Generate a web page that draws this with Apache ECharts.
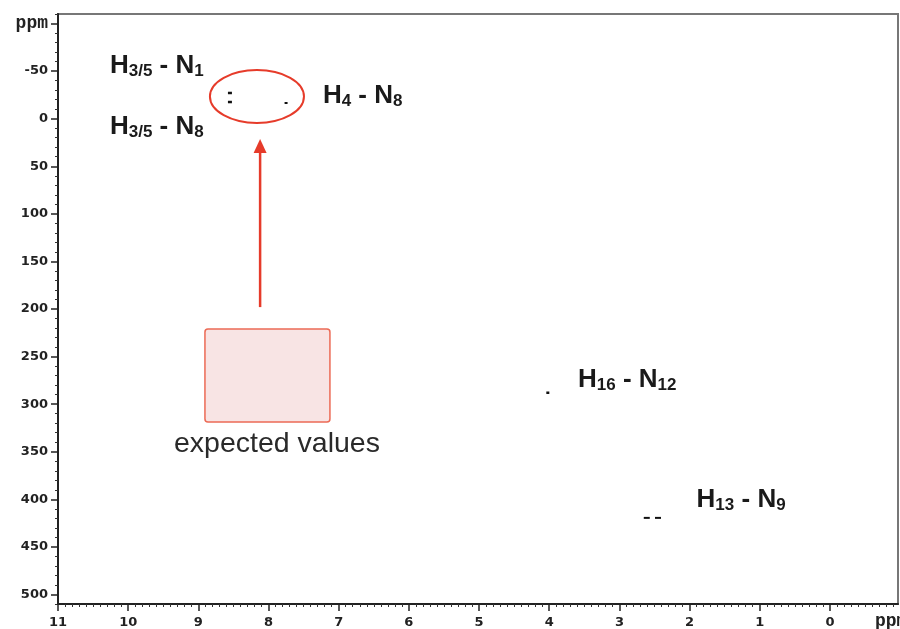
<!DOCTYPE html>
<html><head><meta charset="utf-8">
<script src="https://cdn.jsdelivr.net/npm/echarts@6/dist/echarts.min.js"></script>
<style>html,body{margin:0;padding:0;background:#fff}#c{width:900px;height:629px}</style>
</head><body><div id="c"></div>
<script>
// ---- data ----
const xMajorTicks = [11, 10, 9, 8, 7, 6, 5, 4, 3, 2, 1, 0];
const xTickLabels = ['11', '10', '9', '8', '7', '6', '5', '4', '3', '2', '1', '0'];
const yMajorTicks = [-100, -50, 0, 50, 100, 150, 200, 250, 300, 350, 400, 450, 500];
const yTickLabels = ['ppm', '-50', '0', '50', '100', '150', '200', '250', '300', '350', '400', '450', '500'];
const peakX = [8.55, 8.55, 7.75, 4.02, 2.61, 2.45];
const peakY = [-27, -17.5, -16.5, 288, 419.5, 419.5];
const pairH = ['3/5', '3/5', '4', '16', '13'];
const pairN = ['1', '8', '8', '12', '9'];
const boxCaption = 'expected values';

// ---- layout / style (not data) ----
const peakSizes = [[4, 2.5], [4, 2.5], [3, 2], [3, 2.5], [6, 2], [6, 2]];
const labelAnchors = [[10.26, -55.7], [10.26, 8.4], [7.225, -24.2], [3.59, 274.3], [1.90, 400.4]];
const captionAnchor = [7.88, 341.5];
const RED = '#e63b2a';
const LABEL_FONT = '"Liberation Sans", Arial, Helvetica, sans-serif';

const xMinor = [];
for (let i = -9; i <= 110; i++) { if (i % 10 !== 0) xMinor.push(i / 10); }
const yMinor = [];
for (let v = -110; v <= 510; v += 10) { if (v % 50 !== 0) yMinor.push(v); }

const tickFont = { fontFamily: 'DejaVu Sans', fontWeight: 'bold', fontSize: 13, color: '#222' };

const chart = echarts.init(document.getElementById('c'), null, { renderer: 'canvas' });
chart.setOption({
  backgroundColor: '#fff',
  animation: false,
  grid: { left: 58, right: 2, top: 14, bottom: 25, show: true, borderColor: '#777', borderWidth: 2, backgroundColor: 'transparent' },
  xAxis: [
    { type: 'value', min: -0.97, max: 11, inverse: true, position: 'bottom',
      axisLine: { show: true, onZero: false, lineStyle: { color: '#222', width: 2 } },
      axisTick: { show: true, customValues: xMajorTicks, length: 7, lineStyle: { color: '#222', width: 1.5 } },
      axisLabel: Object.assign({ customValues: xMajorTicks, margin: 12,
        formatter: v => xTickLabels[xMajorTicks.indexOf(v)] }, tickFont),
      splitLine: { show: false } },
    { type: 'value', min: -0.97, max: 11, inverse: true, position: 'bottom',
      axisLine: { show: false, onZero: false },
      axisTick: { show: true, customValues: xMinor, length: 3, lineStyle: { color: '#333', width: 1 } },
      axisLabel: { show: false }, splitLine: { show: false } }
  ],
  yAxis: [
    { type: 'value', min: -110, max: 510, inverse: true, position: 'left',
      axisLine: { show: true, onZero: false, lineStyle: { color: '#222', width: 2 } },
      axisTick: { show: true, customValues: yMajorTicks, length: 7, lineStyle: { color: '#222', width: 1.5 } },
      axisLabel: Object.assign({ customValues: yMajorTicks, margin: 10,
        formatter: v => { const i = yMajorTicks.indexOf(v); return i === 0 ? '{u|' + yTickLabels[i] + '}' : yTickLabels[i]; },
        rich: { u: { fontFamily: 'Liberation Mono', fontWeight: 'bold', fontSize: 18, color: '#222' } } }, tickFont),
      splitLine: { show: false } },
    { type: 'value', min: -110, max: 510, inverse: true, position: 'left',
      axisLine: { show: false, onZero: false },
      axisTick: { show: true, customValues: yMinor, length: 3, lineStyle: { color: '#333', width: 1 } },
      axisLabel: { show: false }, splitLine: { show: false } }
  ],
  graphic: [
    { type: 'text', left: 875, top: 612, style: { text: 'ppm', font: 'bold 18px "Liberation Mono"', fill: '#222' } }
  ],
  series: [
    { type: 'custom', name: 'annotations', coordinateSystem: 'cartesian2d', z: 1, silent: true,
      data: [[8, 200]],
      renderItem: function (params, api) {
        const c = api.coord([8.165, -23.3]);
        const s = api.size([0.67, 27.8]);
        const r1 = api.coord([8.906, 221]);
        const r2 = api.coord([7.125, 318.7]);
        const a1 = api.coord([8.12, 198]);
        const a2 = api.coord([8.12, 21.3]);
        return { type: 'group', children: [
          { type: 'rect', shape: { x: Math.min(r1[0], r2[0]), y: Math.min(r1[1], r2[1]),
              width: Math.abs(r2[0] - r1[0]), height: Math.abs(r2[1] - r1[1]), r: 3 },
            style: { fill: '#f8e4e4', stroke: '#ec6a55', lineWidth: 1.5 } },
          { type: 'ellipse', shape: { cx: c[0], cy: c[1], rx: Math.abs(s[0]), ry: Math.abs(s[1]) },
            style: { fill: 'none', stroke: RED, lineWidth: 2 } },
          { type: 'line', shape: { x1: a1[0], y1: a1[1], x2: a2[0], y2: a2[1] + 12 },
            style: { stroke: RED, lineWidth: 2.5 } },
          { type: 'polygon', shape: { points: [[a2[0], a2[1]], [a2[0] - 6.5, a2[1] + 14], [a2[0] + 6.5, a2[1] + 14]] },
            style: { fill: RED } }
        ] };
      } },
    { type: 'scatter', name: 'peaks', z: 5, symbol: 'rect',
      symbolSize: (val, p) => peakSizes[p.dataIndex],
      itemStyle: { color: '#111', opacity: 1 },
      data: peakX.map((x, i) => [x, peakY[i]]) },
    { type: 'scatter', name: 'labels', z: 6, symbolSize: 0, silent: true,
      itemStyle: { opacity: 1 },
      data: labelAnchors.map((a, i) => ({ value: a, name: 'H' + pairH[i] + ' - N' + pairN[i] })),
      label: { show: true, position: 'right', distance: 0, opacity: 1,
        formatter: p => 'H{s|' + pairH[p.dataIndex] + '} - N{s|' + pairN[p.dataIndex] + '}',
        fontFamily: LABEL_FONT, fontWeight: 'bold', fontSize: 26, lineHeight: 28, color: '#1a1a1a',
        rich: { s: { fontFamily: LABEL_FONT, fontWeight: 'bold', fontSize: 17, lineHeight: 12,
          verticalAlign: 'bottom', color: '#1a1a1a' } } } },
    { type: 'scatter', name: 'caption', z: 6, symbolSize: 0, silent: true,
      itemStyle: { opacity: 1 },
      data: [{ value: captionAnchor, name: boxCaption }],
      label: { show: true, position: 'inside', formatter: () => boxCaption, opacity: 1,
        fontFamily: LABEL_FONT, fontSize: 28.5, color: '#2a2a2a' } }
  ]
});
</script>
</body></html>
